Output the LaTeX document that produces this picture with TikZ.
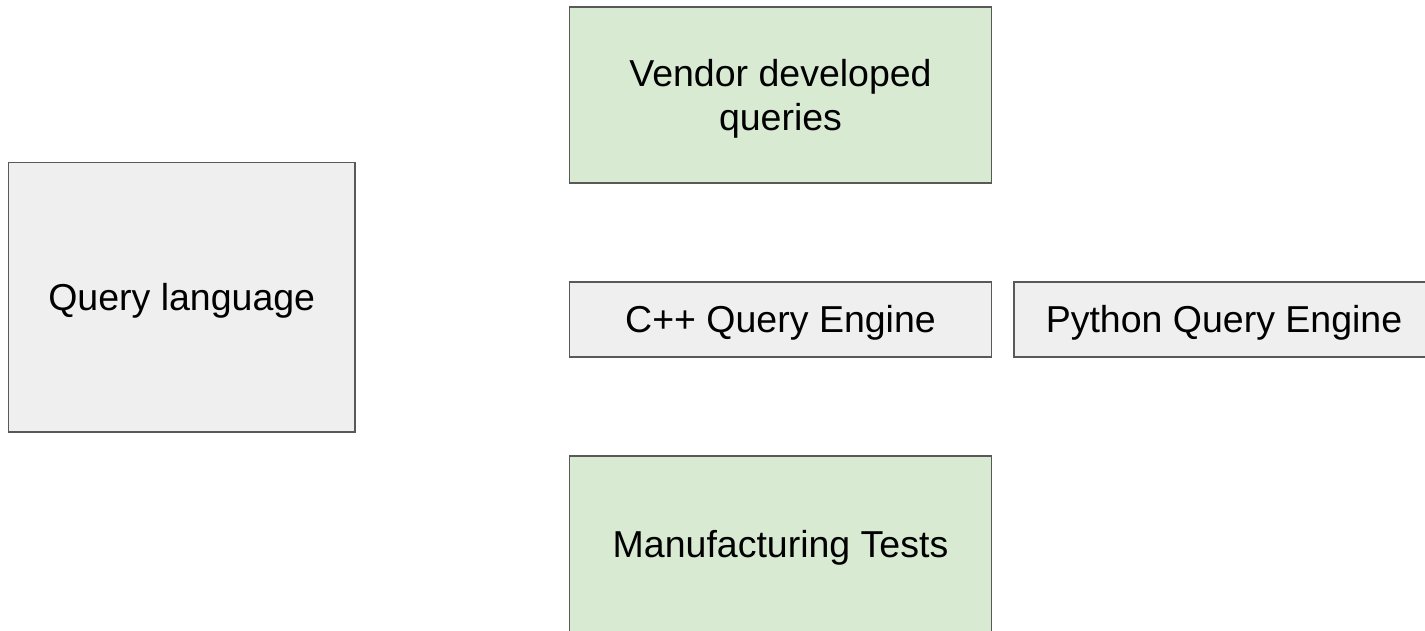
\documentclass[tikz,border=0pt]{standalone}
\usepackage{fontspec}
\setmainfont{Liberation Sans}
\definecolor{boxline}{HTML}{595959}
\definecolor{greyfill}{HTML}{EFEFEF}
\definecolor{greenfill}{HTML}{D9EAD3}
\tikzset{
  box/.style={draw=boxline, line width=1.5pt, rectangle, inner sep=0pt, outer sep=0pt,
    align=center, font=\fontsize{37.5}{44}\selectfont, text=black},
  oneline/.style={text height=26.9pt, text depth=0pt},
  greybox/.style={box, fill=greyfill},
  greenbox/.style={box, fill=greenfill}
}
\begin{document}
\begin{tikzpicture}[x=1pt, y=-1pt]
  \useasboundingbox (0,0) rectangle (1425,630);
  \clip (0,0) rectangle (1425,630);
  \fill[white] (0,0) rectangle (1425,630);

  \node[greybox, oneline, minimum width=346.5pt, minimum height=269.5pt] (ql) at (181.75,297.25) {Query language};
  \node[greenbox, minimum width=422pt, minimum height=176pt] (vendor) at (780.5,95) {Vendor developed\\\smash{queries}};
  \node[greybox, oneline, minimum width=422pt, minimum height=75pt] (cpp) at (780.5,319.5) {C++ Query Engine};
  \node[greybox, oneline, minimum width=420pt, minimum height=75pt] (python) at (1224,319.5) {Python Query Engine};
  \node[greenbox, oneline, minimum width=422pt, minimum height=176pt] (mfg) at (780.5,544) {Manufacturing Tests};
\end{tikzpicture}
\end{document}
